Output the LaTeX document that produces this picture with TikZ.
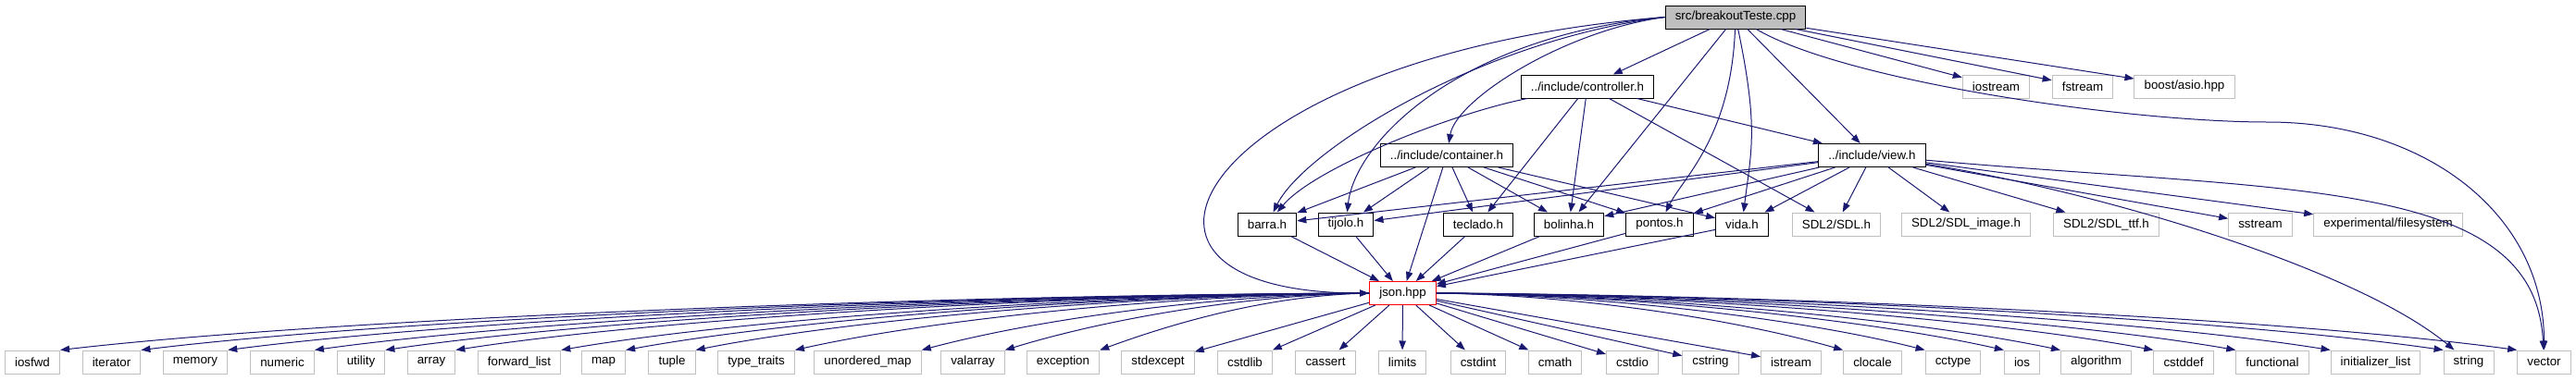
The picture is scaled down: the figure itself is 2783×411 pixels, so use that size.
\documentclass[tikz,border=0pt]{standalone}
\usepackage{fontspec}
\setmainfont{Liberation Sans}
\usepackage{tikz}
\usetikzlibrary{arrows.meta}

\definecolor{midnight}{HTML}{191970}
\definecolor{grey75}{HTML}{BFBFBF}

\begin{document}
\begin{tikzpicture}[
    x=0.75pt, y=-0.75pt,
    font=\fontsize{10}{12}\selectfont,
    hdr/.style={rectangle, draw=black, fill=white, line width=0.75pt,
      minimum height=18.75pt, inner xsep=8pt, inner ysep=0pt},
    root/.style={hdr, fill=grey75},
    jsn/.style={hdr, draw=red},
    sys/.style={hdr, draw=grey75},
    arr/.style={-{Triangle[length=7.5pt,width=5.5pt]}, draw=midnight, line width=0.75pt}
  ]

  \useasboundingbox[fill=white] (0,0) rectangle (2783,411);

  % top rows
  \node[root] (src)     at (1875,18.5)   {src/breakoutTeste.cpp};
  \node[hdr]  (ctrl)    at (1715,93.5)   {../include/controller.h};
  \node[sys]  (iostrm)  at (2156.5,93.5) {iostream};
  \node[sys]  (fstrm)   at (2250,93.5)   {fstream};
  \node[sys]  (asio)    at (2360,93.5)   {boost/asio.hpp};
  \node[hdr]  (cont)    at (1563,168)    {../include/container.h};
  \node[hdr]  (view)    at (2022.5,168)  {../include/view.h};

  % middle row
  \node[hdr] (barra)   at (1369,242.5)   {barra.h};
  \node[hdr] (tijolo)  at (1454,242.5)   {tijolo.h};
  \node[hdr] (teclado) at (1597,242.5)   {teclado.h};
  \node[hdr] (bolinha) at (1695,242.5)   {bolinha.h};
  \node[hdr] (pontos)  at (1793,242.5)   {pontos.h};
  \node[hdr] (vida)    at (1882,242.5)   {vida.h};
  \node[sys] (sdl)     at (1984,242.5)   {SDL2/SDL.h};
  \node[sys] (sdlimg)  at (2124,242.5)   {SDL2/SDL\_image.h};
  \node[sys] (sdlttf)  at (2275.5,242.5) {SDL2/SDL\_ttf.h};
  \node[sys] (sstrm)   at (2442,242.5)   {sstream};
  \node[sys] (fsys)    at (2580,242.5)   {experimental/filesystem};

  \node[jsn] (json)    at (1515.5,317)   {json.hpp};

  % bottom row
  \node[sys] (iosfwd)  at (35,391.5)     {iosfwd};
  \node[sys] (iter)    at (120.5,391.5)  {iterator};
  \node[sys] (memory)  at (211,391.5)    {memory};
  \node[sys] (numeric) at (305,391.5)    {numeric};
  \node[sys] (utility) at (390,391.5)    {utility};
  \node[sys] (array)   at (466,391.5)    {array};
  \node[sys] (fwdlist) at (561,391.5)    {forward\_list};
  \node[sys] (map)     at (652,391.5)    {map};
  \node[sys] (tuple)   at (726,391.5)    {tuple};
  \node[sys] (typetr)  at (817,391.5)    {type\_traits};
  \node[sys] (umap)    at (937.5,391.5)  {unordered\_map};
  \node[sys] (valarr)  at (1051,391.5)   {valarray};
  \node[sys] (except)  at (1148.5,391.5) {exception};
  \node[sys] (stdexc)  at (1251,391.5)   {stdexcept};
  \node[sys] (cstdlib) at (1345,391.5)   {cstdlib};
  \node[sys] (cassert) at (1432,391.5)   {cassert};
  \node[sys] (limits)  at (1515,391.5)   {limits};
  \node[sys] (cstdint) at (1597,391.5)   {cstdint};
  \node[sys] (cmath)   at (1680,391.5)   {cmath};
  \node[sys] (cstdio)  at (1763.5,391.5) {cstdio};
  \node[sys] (cstring) at (1848,391.5)   {cstring};
  \node[sys] (istrm)   at (1935,391.5)   {istream};
  \node[sys] (clocale) at (2023,391.5)   {clocale};
  \node[sys] (cctype)  at (2110,391.5)   {cctype};
  \node[sys] (ios)     at (2184.5,391.5) {ios};
  \node[sys] (algo)    at (2264.5,391.5) {algorithm};
  \node[sys] (cstddef) at (2359,391.5)   {cstddef};
  \node[sys] (func)    at (2455,391.5)   {functional};
  \node[sys] (initl)   at (2566.5,391.5) {initializer\_list};
  \node[sys] (string)  at (2667,391.5)   {string};
  \node[sys] (vector)  at (2748.5,391.5) {vector};

  % src/breakoutTeste.cpp
  \draw[arr] (src.west) .. controls +(-500,40) and +(-330,0) .. (json.west);
  \draw[arr] (src.west) .. controls +(-200,25) and +(40,-80) .. (barra);
  \draw[arr] (src.west) .. controls +(-220,20) and +(10,-90) .. (tijolo);
  \draw[arr] (src.west) .. controls +(-110,15) and +(10,-60) .. (cont);
  \draw[arr] (src) -- (ctrl);
  \draw[arr] (src) -- (bolinha);
  \draw[arr] (src) .. controls +(-5,130) and +(25,-50) .. (pontos);
  \draw[arr] (src) .. controls +(25,120) and +(10,-80) .. (vida);
  \draw[arr] (src) -- (view);
  \draw[arr] (src) -- (iostrm);
  \draw[arr] (src) -- (fstrm);
  \draw[arr] (src) -- (asio);
  \draw[arr] (src) .. controls +(120,70) and +(-150,0) .. (2450,132)
    .. controls +(170,0) and +(0,-160) .. (vector);

  % controller.h
  \draw[arr] (ctrl) .. controls +(-150,30) and +(50,-60) .. (barra);
  \draw[arr] (ctrl) -- (teclado);
  \draw[arr] (ctrl) -- (bolinha);
  \draw[arr] (ctrl) -- (sdl);
  \draw[arr] (ctrl) -- (view);

  % container.h
  \draw[arr] (cont) -- (barra);
  \draw[arr] (cont) -- (tijolo);
  \draw[arr] (cont) -- (json);
  \draw[arr] (cont) -- (teclado);
  \draw[arr] (cont) -- (bolinha);
  \draw[arr] (cont) -- (pontos);
  \draw[arr] (cont) -- (vida);

  % view.h
  \draw[arr] (view) -- (barra);
  \draw[arr] (view) -- (tijolo);
  \draw[arr] (view) -- (bolinha);
  \draw[arr] (view) -- (pontos);
  \draw[arr] (view) -- (vida);
  \draw[arr] (view) -- (sdl);
  \draw[arr] (view) -- (sdlimg);
  \draw[arr] (view) -- (sdlttf);
  \draw[arr] (view) -- (sstrm);
  \draw[arr] (view) -- (fsys);
  \draw[arr] (view) .. controls +(250,40) and +(-120,-100) .. (string);
  \draw[arr] (view) .. controls +(450,40) and +(-10,-200) .. (vector);

  % headers -> json.hpp
  \draw[arr] (barra) -- (json);
  \draw[arr] (tijolo) -- (json);
  \draw[arr] (teclado) -- (json);
  \draw[arr] (bolinha) -- (json);
  \draw[arr] (pontos) -- (json);
  \draw[arr] (vida) -- (json);

  % json.hpp, left fan
  \draw[arr] (json.west) .. controls +(-481,2) and +(295,-34) .. (iosfwd.north east);
  \draw[arr] (json.west) .. controls +(-451,2) and +(279,-34) .. (iter.north east);
  \draw[arr] (json.west) .. controls +(-420,2) and +(262,-34) .. (memory.north east);
  \draw[arr] (json.west) .. controls +(-388,2) and +(245,-34) .. (numeric.north east);
  \draw[arr] (json.west) .. controls +(-361,2) and +(231,-34) .. (utility.north east);
  \draw[arr] (json.west) .. controls +(-336,2) and +(218,-34) .. (array.north east);
  \draw[arr] (json.west) .. controls +(-297,2) and +(197,-34) .. (fwdlist.north east);
  \draw[arr] (json.west) .. controls +(-274,2) and +(185,-34) .. (map.north east);
  \draw[arr] (json.west) .. controls +(-248,2) and +(171,-34) .. (tuple.north east);
  \draw[arr] (json.west) .. controls +(-211,2) and +(152,-34) .. (typetr.north east);
  \draw[arr] (json.west) .. controls +(-166,2) and +(128,-34) .. (umap.north east);
  \draw[arr] (json.west) .. controls +(-134,2) and +(111,-34) .. (valarr.north east);
  \draw[arr] (json.west) .. controls +(-100,2) and +(93,-34) .. (except.north east);

  % json.hpp, straight down
  \draw[arr] (json) -- (stdexc);
  \draw[arr] (json) -- (cstdlib);
  \draw[arr] (json) -- (cassert);
  \draw[arr] (json) -- (limits);
  \draw[arr] (json) -- (cstdint);
  \draw[arr] (json) -- (cmath);
  \draw[arr] (json) -- (cstdio);
  \draw[arr] (json) -- (cstring);
  \draw[arr] (json) -- (istrm);

  % json.hpp, right fan
  \draw[arr] (json.east) .. controls +(150,2) and +(-119,-34) .. (clocale.north west);
  \draw[arr] (json.east) .. controls +(180,2) and +(-135,-34) .. (cctype.north west);
  \draw[arr] (json.east) .. controls +(209,2) and +(-151,-34) .. (ios.north west);
  \draw[arr] (json.east) .. controls +(230,2) and +(-162,-34) .. (algo.north west);
  \draw[arr] (json.east) .. controls +(264,2) and +(-180,-34) .. (cstddef.north west);
  \draw[arr] (json.east) .. controls +(294,2) and +(-196,-34) .. (func.north west);
  \draw[arr] (json.east) .. controls +(329,2) and +(-214,-34) .. (initl.north west);
  \draw[arr] (json.east) .. controls +(370,2) and +(-236,-34) .. (string.north west);
  \draw[arr] (json.east) .. controls +(397,2) and +(-250,-34) .. (vector.north west);
\end{tikzpicture}
\end{document}
